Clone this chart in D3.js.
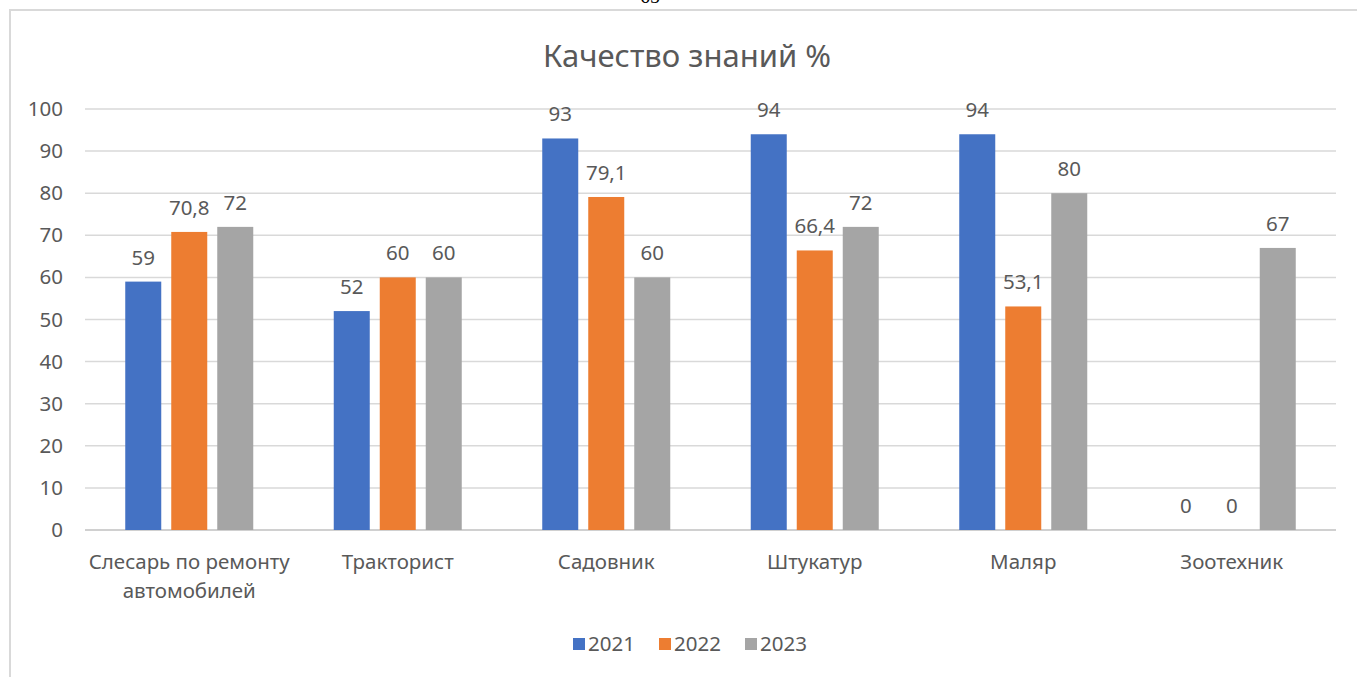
<!DOCTYPE html>
<html>
<head>
<meta charset="utf-8">
<title>Качество знаний</title>
<style>
	body{ margin:0; background:#fff; }
	svg text{ font-family:"Noto Sans", "Open Sans", sans-serif; fill:#595959; }
</style>
</head>
<body>
<div id="chart"></div>
<script src="https://d3js.org/d3.v7.min.js"></script>
<script type="text/javascript">

var categories = [['Слесарь по ремонту','автомобилей'],['Тракторист'],['Садовник'],['Штукатур'],['Маляр'],['Зоотехник']],
	series = ['2021','2022','2023'],
	v2021 = [59, 52, 93, 94, 94, 0],
	v2022 = [70.8, 60, 79.1, 66.4, 53.1, 0],
	v2023 = [72, 60, 60, 72, 80, 67],
	yTicks = [0,10,20,30,40,50,60,70,80,90,100],
	colors = ['#4472C4','#ED7D31','#A5A5A5'];

var values = [v2021, v2022, v2023];
var width = 1357, height = 677, fs = '20.5px';

var svg = d3.select('#chart').append('svg').attr('width', width).attr('height', height);

// page number, mostly above the visible area
svg.append('text').attr('x', 650).attr('y', 3).attr('text-anchor','middle')
	.style('font-family','"Liberation Serif", serif').style('fill','#000').style('font-size','20px').text('65');

// chart frame
svg.append('rect').attr('x', 10).attr('y', 10).attr('width', 1360).attr('height', 700)
	.style('fill','none').style('stroke','#d9d9d9').style('stroke-width', 2);

svg.append('text').attr('x', 687).attr('y', 67).attr('text-anchor','middle')
	.style('font-size','31px').text('Качество знаний %');

var x0 = d3.scaleBand().domain(d3.range(categories.length)).range([85, 1336]),
	x1 = d3.scaleBand().domain(series).range([40.25, x0.bandwidth() - 40.25]).paddingInner(10/46),
	y = d3.scaleLinear().domain([0,100]).range([530, 109]);

// gridlines
svg.append('g').selectAll('line').data(yTicks).join('line')
	.attr('x1', 85).attr('x2', 1336)
	.attr('y1', function(d){ return y(d); }).attr('y2', function(d){ return y(d); })
	.style('stroke', function(d){ return d == 0 ? '#d0d0d0' : '#d9d9d9'; })
	.style('stroke-width', function(d){ return d == 0 ? 2 : 1.5; });

var yAxis = svg.append('g').attr('transform','translate(63,0)')
	.call(d3.axisLeft(y).tickValues(yTicks).tickSize(0).tickPadding(0));
yAxis.select('.domain').remove();
yAxis.selectAll('text').style('font-size', fs).style('fill','#595959').style('font-family','"Noto Sans", sans-serif');

// bars
var groups = svg.append('g').selectAll('g').data(categories).join('g')
	.attr('transform', function(d, i){ return 'translate(' + x0(i) + ',0)'; });

series.forEach(function(s, k){
	groups.append('rect')
		.attr('x', x1(s)).attr('width', x1.bandwidth())
		.attr('y', function(d, i){ return y(values[k][i]); })
		.attr('height', function(d, i){ return y(0) - y(values[k][i]); })
		.style('fill', colors[k]);
	groups.append('text')
		.attr('x', x1(s) + x1.bandwidth()/2)
		.attr('y', function(d, i){ return y(values[k][i]) - 17; })
		.attr('text-anchor','middle').style('font-size', fs)
		.text(function(d, i){ return String(values[k][i]).replace('.', ','); });
});

// category labels
groups.append('text').attr('text-anchor','middle').attr('x', x0.bandwidth()/2).style('font-size', fs)
	.selectAll('tspan').data(function(d){ return d; }).join('tspan')
	.attr('x', x0.bandwidth()/2).attr('y', function(d, i){ return 569 + i*29; })
	.text(function(d){ return d; });

// legend
var legend = svg.append('g').selectAll('g').data(series).join('g')
	.attr('transform', function(d, i){ return 'translate(' + (573 + i*86) + ',638)'; });
legend.append('rect').attr('width', 12).attr('height', 12).style('fill', function(d, i){ return colors[i]; });
legend.append('text').attr('x', 15).attr('y', 13).style('font-size', fs).text(function(d){ return d; });

</script>
</body>
</html>
